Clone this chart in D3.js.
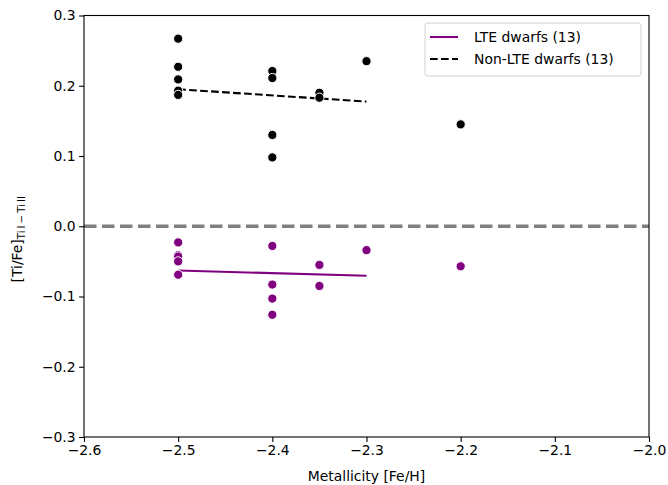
<!DOCTYPE html>
<html>
<head>
<meta charset="utf-8">
<script src="https://cdn.jsdelivr.net/npm/d3@7"></script>
<style>
  html, body { margin: 0; padding: 0; background: #fff; }
  svg { display: block; font-family: "DejaVu Sans", sans-serif; }
</style>
</head>
<body>
<svg id="chart" width="668" height="485"></svg>
<script>
// ---- data ----
const nlteX = [-2.5, -2.5, -2.5, -2.5, -2.5, -2.4, -2.4, -2.4, -2.4, -2.35, -2.35, -2.3, -2.2];
const nlteY = [0.267, 0.227, 0.209, 0.193, 0.187, 0.221, 0.211, 0.130, 0.098, 0.190, 0.183, 0.235, 0.145];
const lteX = [-2.5, -2.5, -2.5, -2.5, -2.5, -2.4, -2.4, -2.4, -2.4, -2.35, -2.35, -2.3, -2.2];
const lteY = [-0.023, -0.041, -0.043, -0.050, -0.069, -0.028, -0.083, -0.103, -0.126, -0.055, -0.085, -0.034, -0.057];
const lteFitX = [-2.5, -2.3];
const lteFitY = [-0.063, -0.0705];
const nlteFitX = [-2.5, -2.3];
const nlteFitY = [0.195, 0.1775];
const xTicks = [-2.6, -2.5, -2.4, -2.3, -2.2, -2.1, -2.0];
const yTicks = [-0.3, -0.2, -0.1, 0.0, 0.1, 0.2, 0.3];
const legendLabels = ["LTE dwarfs (13)", "Non-LTE dwarfs (13)"];

// ---- layout ----
const svg = d3.select("#chart");
const L = 84, R = 649, T = 15.5, B = 437;
const x = d3.scaleLinear().domain([-2.6, -2.0]).range([L, R]);
const y = d3.scaleLinear().domain([-0.3, 0.3]).range([B, T]);
const fmt = v => d3.format(".1f")(v).replace("-", "\u2212");
const purple = "#800080";

// zero line
svg.append("line")
  .attr("x1", x(-2.6)).attr("x2", x(-2.0))
  .attr("y1", y(0)).attr("y2", y(0))
  .attr("stroke", "#808080").attr("stroke-width", 3.3)
  .attr("stroke-dasharray", "12.5,5.5");

// fit lines
const line = d3.line().x(d => x(d[0])).y(d => y(d[1]));
svg.append("path")
  .datum(lteFitX.map((v, i) => [v, lteFitY[i]]))
  .attr("d", line).attr("fill", "none")
  .attr("stroke", purple).attr("stroke-width", 2.1);
svg.append("path")
  .datum(nlteFitX.map((v, i) => [v, nlteFitY[i]]))
  .attr("d", line).attr("fill", "none")
  .attr("stroke", "#000").attr("stroke-width", 2.1)
  .attr("stroke-dasharray", "7.7,3.3");

// points
svg.append("g").selectAll("circle")
  .data(nlteX.map((v, i) => [v, nlteY[i]]))
  .join("circle")
  .attr("cx", d => x(d[0])).attr("cy", d => y(d[1])).attr("r", 4.6)
  .attr("fill", "#000").attr("stroke", "#fff").attr("stroke-width", 1);
svg.append("g").selectAll("circle")
  .data(lteX.map((v, i) => [v, lteY[i]]))
  .join("circle")
  .attr("cx", d => x(d[0])).attr("cy", d => y(d[1])).attr("r", 4.6)
  .attr("fill", purple).attr("stroke", "#fff").attr("stroke-width", 1);

// axes
const xAxis = d3.axisBottom(x).tickValues(xTicks).tickFormat(fmt).tickSizeOuter(0).tickSize(4.9).tickPadding(3.5);
const yAxis = d3.axisLeft(y).tickValues(yTicks).tickFormat(fmt).tickSizeOuter(0).tickSize(4.9).tickPadding(3.5);
const gx = svg.append("g").attr("transform", `translate(0,${B})`).call(xAxis);
const gy = svg.append("g").attr("transform", `translate(${L},0)`).call(yAxis);
[gx, gy].forEach(g => {
  g.select(".domain").remove();
  g.selectAll("line").attr("stroke", "#000").attr("stroke-width", 1.1);
  g.selectAll("text").attr("font-size", 13.9).attr("fill", "#000")
    .attr("font-family", "DejaVu Sans, sans-serif");
});

// frame
svg.append("rect").attr("x", L).attr("y", T).attr("width", R - L).attr("height", B - T)
  .attr("fill", "none").attr("stroke", "#000").attr("stroke-width", 1.1);

// axis labels
svg.append("text").attr("x", (L + R) / 2).attr("y", 481)
  .attr("text-anchor", "middle").attr("font-size", 13.9).text("Metallicity [Fe/H]");
const yl = svg.append("text")
  .attr("transform", `translate(22,${(T + B) / 2 + 13}) rotate(-90)`)
  .attr("text-anchor", "middle").attr("font-size", 13.9);
yl.append("tspan").text("[Ti/Fe]");
yl.append("tspan").attr("font-size", 10.2).attr("dy", 3).text("Ti\u2009I\u2009\u2212\u2009Ti\u2009II");

// legend
const lg = svg.append("g");
lg.append("rect").attr("x", 425).attr("y", 23).attr("width", 216).attr("height", 53)
  .attr("rx", 3).attr("fill", "#fff").attr("fill-opacity", 0.8)
  .attr("stroke", "#d0d0d0").attr("stroke-width", 1);
const styles = [
  { stroke: purple, dash: null },
  { stroke: "#000", dash: "7.7,3.3" }
];
legendLabels.forEach((lab, i) => {
  const yy = 37 + i * 22;
  lg.append("line").attr("x1", 430).attr("x2", 458).attr("y1", yy).attr("y2", yy)
    .attr("stroke", styles[i].stroke).attr("stroke-width", 2.1)
    .attr("stroke-dasharray", styles[i].dash);
  lg.append("text").attr("x", 474).attr("y", yy + 5).attr("font-size", 13.9).text(lab);
});
</script>
</body>
</html>
